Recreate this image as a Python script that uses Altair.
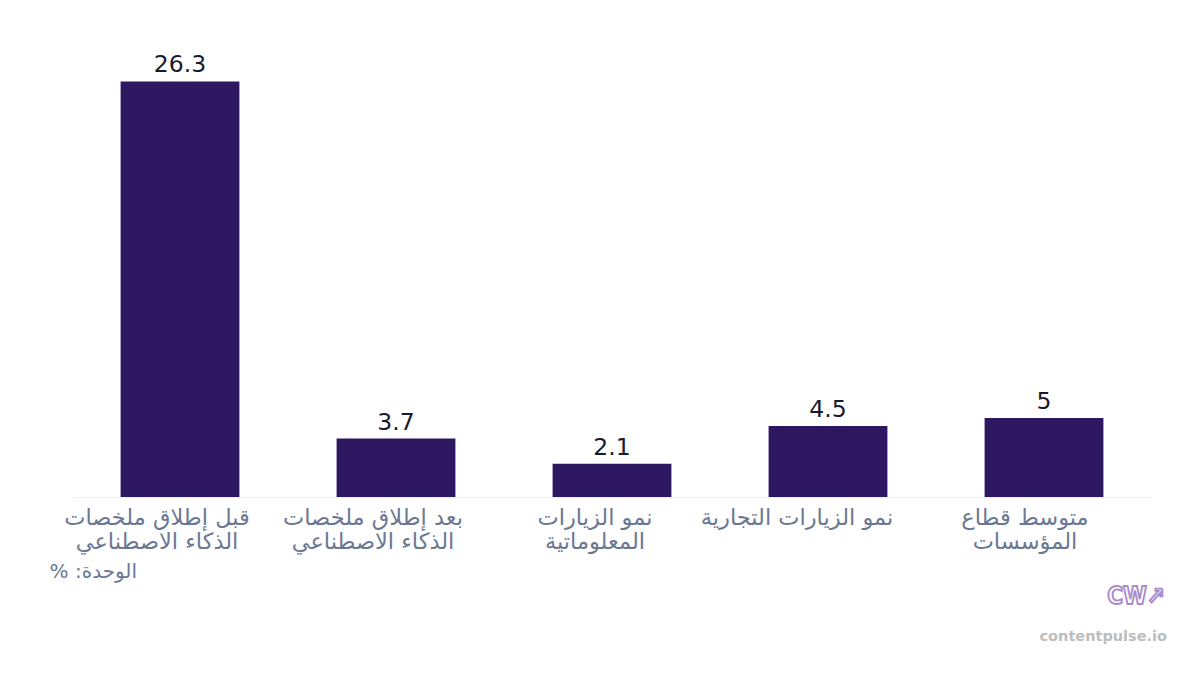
import altair as alt
import pandas as pd

RLE, PDF = "\u202b", "\u202c"

categories = [
    "قبل إطلاق ملخصات|الذكاء الاصطناعي",
    "بعد إطلاق ملخصات|الذكاء الاصطناعي",
    "نمو الزيارات|المعلوماتية",
    "نمو الزيارات التجارية",
    "متوسط قطاع|المؤسسات",
]
values = [26.3, 3.7, 2.1, 4.5, 5]
value_labels = ["26.3", "3.7", "2.1", "4.5", "5"]
unit_note = "الوحدة: %"
brand_text = "contentpulse.io"
logo_text = "CW\u2197"

# horizontal nudges of the category labels (styling, px)
label_nudge = [-23, -23, -17, -31, -19]

df = pd.DataFrame({"cat": categories, "val": values, "lbl": value_labels})

FONT = "DejaVu Sans"
W, H = 1080, 474

offset_expr = ""
for c, n in zip(categories, label_nudge):
    offset_expr += f"datum.value == '{c}' ? {n} : "
offset_expr += "0"

x_enc = alt.X(
    "cat:N",
    sort=None,
    scale=alt.Scale(paddingInner=0.45, paddingOuter=0.225),
    axis=alt.Axis(
        title=None,
        labelAngle=0,
        labelExpr=f"split('{RLE}' + replace(datum.label, '|', '{PDF}|{RLE}') + '{PDF}', '|')",
        labelFont=FONT,
        labelFontSize=22.5,
        labelColor="#6b7894",
        labelLineHeight=24,
        labelPadding=9,
        labelLimit=400,
        labelOffset=alt.ExprRef(expr=offset_expr),
        ticks=False,
        domainColor="#eeeeee",
        domainWidth=1,
        grid=False,
    ),
)
y_enc = alt.Y("val:Q", scale=alt.Scale(domain=[0, 30]), axis=None)

base = alt.Chart(df)
bars = base.mark_bar(color="#2d1760").encode(x=x_enc, y=y_enc)
labels = base.mark_text(
    font=FONT, fontSize=23.5, color="#1a1a2e", baseline="alphabetic", dy=-9
).encode(x=alt.X("cat:N", sort=None), y="val:Q", text="lbl:N")

note = alt.Chart(pd.DataFrame({"t": [RLE + unit_note + PDF]})).mark_text(
    font=FONT, fontSize=20, color="#6b7894", align="right", baseline="middle"
).encode(x=alt.value(65), y=alt.value(549), text="t:N")

brand = alt.Chart(pd.DataFrame({"t": [brand_text]})).mark_text(
    font=FONT, fontSize=14.5, fontWeight="bold", color="#bdbdbd", align="right", baseline="middle"
).encode(x=alt.value(1095), y=alt.value(614), text="t:N")

logo = alt.Chart(pd.DataFrame({"t": [logo_text]})).mark_text(
    font="DejaVu Sans Condensed", fontSize=24, fontWeight="bold", fill="white", stroke="#a98bc9",
    strokeWidth=1.8, align="right", baseline="middle"
).encode(x=alt.value(1093), y=alt.value(574), text="t:N")

chart = (
    alt.layer(bars, labels, note, brand, logo)
    .properties(
        width=W,
        height=H,
        autosize=alt.AutoSizeParams(type="none"),
        padding={"left": 64, "top": 15, "right": 40, "bottom": 170},
        background="white",
    )
    .configure_view(stroke=None)
)

chart.save("out.html", embed_options={"renderer": "svg", "actions": False})
